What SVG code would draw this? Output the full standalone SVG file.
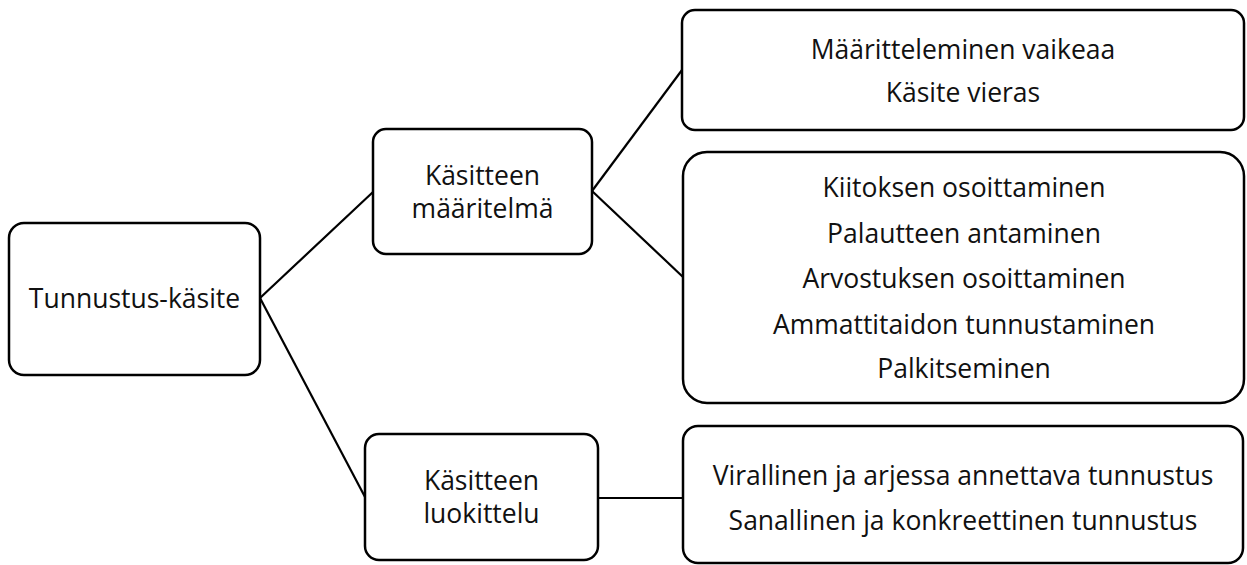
<svg xmlns="http://www.w3.org/2000/svg" width="1247" height="565" viewBox="0 0 1247 565">
  <style>
    .box { fill: #ffffff; stroke: #000000; stroke-width: 2.5; }
    .lbl { font-family: "Open Sans", "Liberation Sans", sans-serif; font-size: 26.5px; fill: #111111; text-anchor: middle; }
    .link { fill: none; stroke: #000000; stroke-width: 2.2; }
  </style>
  <rect width="1247" height="565" fill="#ffffff"/>

  <!-- connectors -->
  <g id="connectors">
    <line class="link" x1="260" y1="298" x2="373" y2="192"/>
    <line class="link" x1="260" y1="298" x2="365" y2="497"/>
    <line class="link" x1="592" y1="191" x2="682" y2="70"/>
    <line class="link" x1="592" y1="191" x2="683" y2="277"/>
    <line class="link" x1="598" y1="498" x2="683" y2="498"/>
  </g>

  <!-- root -->
  <g id="node-tunnustus">
    <rect class="box" x="9" y="223" width="251" height="152" rx="15"/>
    <text class="lbl" x="134.5" y="307.5">Tunnustus-käsite</text>
  </g>

  <!-- definition branch -->
  <g id="node-maaritelma">
    <rect class="box" x="373" y="129" width="219" height="125" rx="13"/>
    <text class="lbl" x="482.5" y="184.5">Käsitteen</text>
    <text class="lbl" x="482.5" y="217.5">määritelmä</text>
  </g>

  <g id="node-vaikeaa">
    <rect class="box" x="682" y="10" width="562" height="120" rx="13"/>
    <text class="lbl" x="963" y="58.5">Määritteleminen vaikeaa</text>
    <text class="lbl" x="963" y="102">Käsite vieras</text>
  </g>

  <g id="node-muodot">
    <rect class="box" x="683" y="152" width="561" height="251" rx="24"/>
    <text class="lbl" x="964" y="196.5">Kiitoksen osoittaminen</text>
    <text class="lbl" x="964" y="242.5">Palautteen antaminen</text>
    <text class="lbl" x="964" y="288">Arvostuksen osoittaminen</text>
    <text class="lbl" x="964" y="333.5">Ammattitaidon tunnustaminen</text>
    <text class="lbl" x="964" y="377.5">Palkitseminen</text>
  </g>

  <!-- classification branch -->
  <g id="node-luokittelu">
    <rect class="box" x="365" y="434" width="233" height="126" rx="14"/>
    <text class="lbl" x="481.5" y="489.5">Käsitteen</text>
    <text class="lbl" x="481.5" y="522.5">luokittelu</text>
  </g>

  <g id="node-tyypit">
    <rect class="box" x="683" y="426" width="560" height="137" rx="15"/>
    <text class="lbl" x="963" y="484.5">Virallinen ja arjessa annettava tunnustus</text>
    <text class="lbl" x="963" y="529.5">Sanallinen ja konkreettinen tunnustus</text>
  </g>
</svg>
